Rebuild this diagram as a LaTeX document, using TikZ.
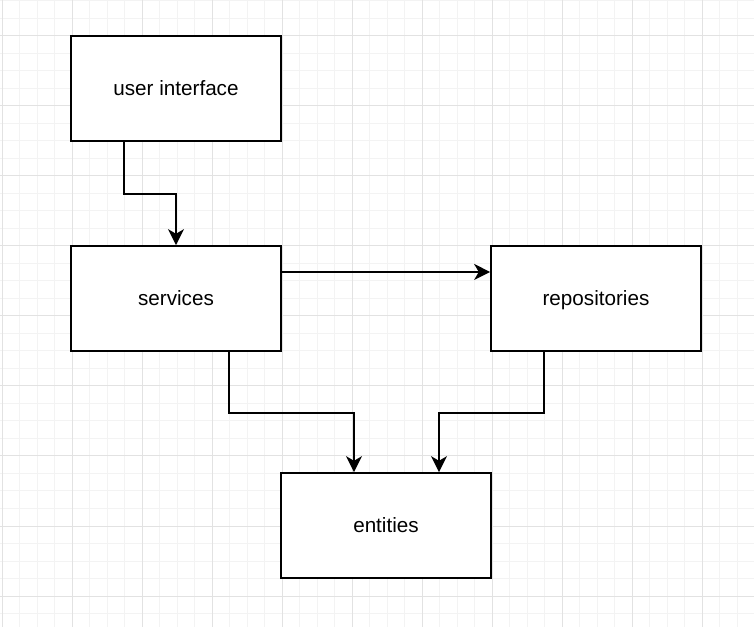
\documentclass[tikz,border=0pt]{standalone}
\usepackage{fontspec}
\setmainfont{Liberation Sans}
\usepackage{tikz}
\usetikzlibrary{arrows.meta}

\definecolor{minorgrid}{HTML}{F3F3F3}
\definecolor{majorgrid}{HTML}{E2E2E2}

\tikzset{
  layer/.style={draw,rectangle,line width=1.3pt,fill=white,minimum width=157.5pt,minimum height=78.75pt,text height=13.2pt,text depth=3.4pt,font=\fontsize{15.5}{18}\selectfont},
  arr/.style={line width=1.3pt,-{Stealth[length=12pt,width=12pt,inset=3.5pt]}}
}

\begin{document}
\begin{tikzpicture}[x=0.75pt,y=-0.75pt]
\useasboundingbox (0,0) rectangle (754,627);
\fill[white] (0,0) rectangle (754,627);

% grid
\foreach \i in {0,...,43} \draw[minorgrid,line width=0.75pt] (2+17.5*\i,0) -- (2+17.5*\i,627);
\foreach \j in {0,...,35} \draw[minorgrid,line width=0.75pt] (0,1+17.5*\j) -- (754,1+17.5*\j);
\foreach \i in {0,...,10} \draw[majorgrid,line width=0.75pt] (2+70*\i,0) -- (2+70*\i,627);
\foreach \j in {0,...,8} \draw[majorgrid,line width=0.75pt] (0,36+70*\j) -- (754,36+70*\j);

\node[layer] (ui) at (176,88.5) {user interface};
\node[layer] (services) at (176,298.5) {services};
\node[layer] (repos) at (596,298.5) {repositories};
\node[layer] (entities) at (386,525.5) {entities};

\draw[arr] ([xshift=-39pt]ui.south) -- ++(0,52) -| (services.north);
\draw[arr] ([yshift=19.9pt]services.east) -- ([yshift=19.9pt]repos.west);
\draw[arr] ([xshift=39.75pt]services.south) -- ++(0,61) -| ([xshift=-24pt]entities.north);
\draw[arr] ([xshift=-39pt]repos.south) -- ++(0,61) -| ([xshift=39.75pt]entities.north);

\end{tikzpicture}
\end{document}
